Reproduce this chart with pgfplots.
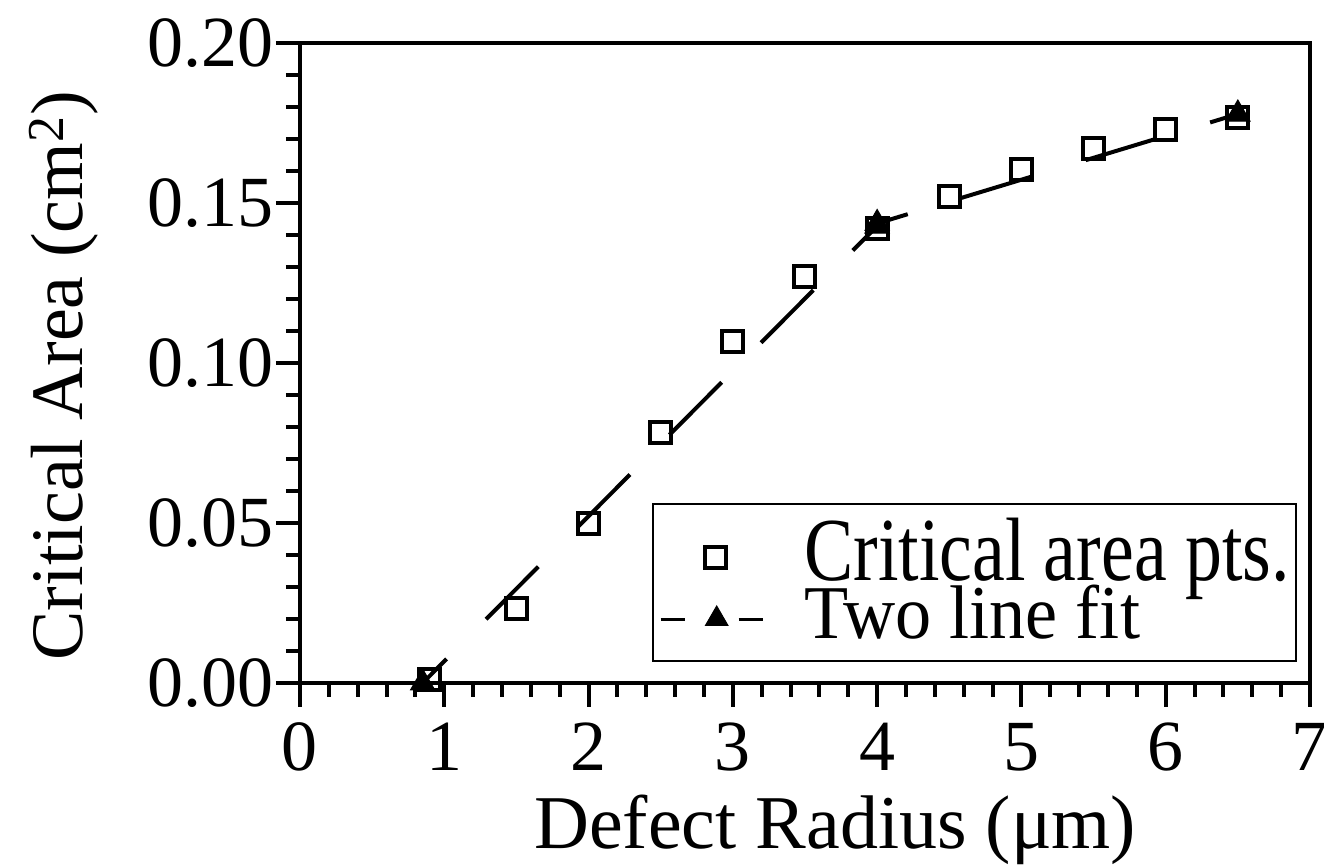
\documentclass[border=0pt]{standalone}
\usepackage{fontspec}
\setmainfont{Liberation Serif}
\usepackage{graphicx}
\usepackage{pgfplots}
\pgfplotsset{compat=1.18}
\begin{document}
\begin{tikzpicture}
\begin{axis}[
  at={(0,0)}, anchor=south west,
  width=505pt, height=320pt, scale only axis,
  xmin=0, xmax=7, ymin=0, ymax=0.2,
  xtick={0,1,2,3,4,5,6,7},
  ytick={0,0.05,0.10,0.15,0.20},
  minor x tick num=4, minor y tick num=4,
  tick pos=left, tick align=outside,
  major tick length=12pt, minor tick length=7pt,
  tick style={line width=2pt, black},
  line width=2pt,
  /pgf/number format/assume math mode=true,
  ticklabel style={font=\fontsize{36}{40}\selectfont},
  yticklabel style={inner sep=0pt, /pgf/number format/fixed, /pgf/number format/precision=2, /pgf/number format/zerofill},
  xticklabel style={inner sep=0pt, yshift=-7pt},
  xlabel={Defect Radius (μm)},
  ylabel={Critical Area (cm\textsuperscript{2})},
  label style={font=\fontsize{37}{40}\selectfont},
  x label style={font=\fontsize{38}{40}\selectfont, at={(axis description cs:0.53,-0.258)}, anchor=base},
  y label style={at={(axis description cs:-0.2158,0.48)}, anchor=base},
  legend style={at={(axis description cs:0.987,0.0328)}, anchor=south east,
    draw=black, line width=1pt, inner xsep=3pt, inner ysep=5pt,
    row sep=0pt, column sep=20pt,
    nodes={inner sep=0pt}},
  legend cell align=left,
]
\addplot[only marks, mark=square, mark size=5.25pt, mark options={solid, line width=2pt, black},
  legend image code/.code={
    \path[draw=none, fill=none] (0pt,-2pt) -- (51pt,-2pt);
    \path[draw=none] plot[mark=square, mark size=5.25pt, mark options={solid, draw=black, line width=2pt}] coordinates {(27.5pt,-2pt)};
  }]
  coordinates {
  (0.9,0.001) (1.5,0.0234) (2.0,0.0497) (2.5,0.0784) (3.0,0.1066) (3.5,0.127)
  (4.0,0.142) (4.5,0.152) (5.0,0.1606) (5.5,0.167) (6.0,0.173) (6.5,0.1766)
  };
\addlegendentry[text height=33.5pt, text depth=6pt]{\fontsize{45}{45}\selectfont\scalebox{0.82}[1]{Critical area pts.}}
\addplot[black, line width=2pt, dash pattern=on 37pt off 28pt, dash phase=20pt,
  mark=triangle*, mark size=7pt, mark options={solid, line width=0.5pt, fill=black},
  legend image code/.code={
    \draw[black, line width=1.5pt, dash pattern=on 12pt off 27pt, dash phase=0pt] (0pt,1pt) -- (51pt,1pt);
    \path[draw=none] plot[mark=triangle*, mark size=6.5pt, mark options={solid, draw=black, fill=black, line width=0.5pt}] coordinates {(28pt,1.5pt)};
  }]
  coordinates {(0.85,0.0) (4.0,0.1428)};
\addlegendentry[text height=23pt, text depth=6pt]{\fontsize{38}{38}\selectfont\scalebox{0.95}[1]{Two line fit}}
\addplot[black, line width=2pt, dash pattern=on 37pt off 28pt, dash phase=21pt,
  mark=triangle*, mark size=7pt, mark options={solid, line width=0.5pt, fill=black}, forget plot]
  coordinates {(4.0,0.1436) (6.5,0.1778)};
\end{axis}
\pgfresetboundingbox
\useasboundingbox (-150pt,-91pt) rectangle (512pt,341.5pt);
\end{tikzpicture}
\end{document}
